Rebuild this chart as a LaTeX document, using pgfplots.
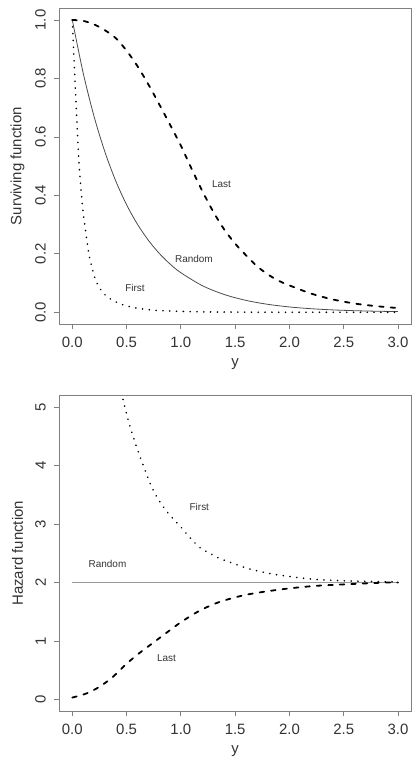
\documentclass[border=0pt]{standalone}
\usepackage{fontspec}
\setmainfont{Liberation Sans}
\usepackage{pgfplots}
\pgfplotsset{compat=1.18}
\definecolor{txt}{HTML}{333333}
\definecolor{frame}{HTML}{808080}
\pgfplotsset{
  rstyle/.style={
    scale only axis,
    width=351.7bp,
    xmin=-0.12, xmax=3.12,
    axis line style={draw=frame, line width=0.8bp},
    every tick/.style={draw=frame, line width=0.8bp},
    tick align=outside,
    major tick length=5bp,
    xtick pos=bottom, ytick pos=left,
    xtick={0,0.5,1,1.5,2,2.5,3},
    xticklabel style={/pgf/number format/fixed, /pgf/number format/fixed zerofill, /pgf/number format/precision=1, /pgf/number format/assume math mode=true, yshift=-5bp},
    ticklabel style={font=\fontsize{15}{18}\selectfont, text=txt},
    y tick label style={rotate=90, anchor=south, yshift=5bp},
    every axis y label/.style={at={(axis description cs:-0.119,0.5)}, rotate=90, anchor=center, font=\fontsize{15}{18}\selectfont, text=txt},
    every axis x label/.style={at={(axis description cs:0.5,-0.127)}, anchor=center, font=\fontsize{15}{18}\selectfont, text=txt},
    clip=true,
  },
}
\tikzset{
  lab/.style={font=\fontsize{10}{12}\selectfont, text=txt, anchor=center},
  dashedR/.style={black, line width=1.8bp, dash pattern=on 4.5bp off 7bp, line cap=round},
  dottedR/.style={black, line width=1.8bp, dash pattern=on 0.01bp off 6.8bp, line cap=round},
}
\begin{document}
\begin{tikzpicture}
\useasboundingbox (0,0) rectangle (415bp,759bp);
% ---------------- top: surviving functions
\begin{axis}[rstyle, at={(59.3bp,435bp)}, anchor=south west, height=315.7bp,
  ymin=-0.04, ymax=1.04, ytick={0,0.2,0.4,0.6,0.8,1.0},
  yticklabel style={/pgf/number format/fixed, /pgf/number format/fixed zerofill, /pgf/number format/precision=1, /pgf/number format/assume math mode=true},
  xlabel={y}, ylabel={Surviving function}]
\addplot[black!70, line width=0.8bp, smooth] coordinates {
(0,1) (0.1,0.8187) (0.2,0.6703) (0.3,0.5488) (0.4,0.4493) (0.5,0.3679)
(0.6,0.3012) (0.7,0.2466) (0.8,0.2019) (0.9,0.1653) (1.0,0.1353)
(1.2,0.0907) (1.4,0.0608) (1.6,0.0408) (1.8,0.0273) (2.0,0.0183)
(2.2,0.0123) (2.4,0.0082) (2.6,0.0055) (2.8,0.0037) (3.0,0.0025)};
\addplot[dottedR, smooth] coordinates {
(0,1) (0.02,0.83) (0.04,0.67) (0.06,0.52) (0.08,0.42) (0.10,0.34) (0.12,0.285)
(0.15,0.205) (0.18,0.155) (0.22,0.105) (0.28,0.068) (0.35,0.046) (0.42,0.032)
(0.5,0.022) (0.6,0.014) (0.7,0.009) (0.8,0.006) (1.0,0.003) (1.3,0.001)
(1.6,0.0005) (2.0,0.0002) (2.5,0.0001) (3.0,0)};
\addplot[dashedR, smooth] coordinates {
(0,1) (0.1,0.997) (0.2,0.985) (0.3,0.965) (0.4,0.938) (0.5,0.895) (0.6,0.842)
(0.7,0.780) (0.8,0.712) (0.9,0.642) (1.0,0.570) (1.1,0.49) (1.2,0.413)
(1.3,0.343) (1.4,0.283) (1.5,0.235) (1.6,0.195) (1.7,0.158) (1.8,0.130)
(1.9,0.108) (2.0,0.092) (2.2,0.064) (2.4,0.044) (2.6,0.030) (2.8,0.021) (3.0,0.0145)};
\node[lab] at (axis cs:1.374,0.44) {Last};
\node[lab] at (axis cs:1.12,0.182) {Random};
\node[lab] at (axis cs:0.577,0.082) {First};
\end{axis}
% ---------------- bottom: hazard functions
\begin{axis}[rstyle, at={(59.3bp,48bp)}, anchor=south west, height=315.3bp,
  ymin=-0.2, ymax=5.2, ytick={0,1,2,3,4,5},
  yticklabel style={/pgf/number format/assume math mode=true},
  xlabel={y}, ylabel={Hazard function}]
\addplot[black!40, line width=1.4bp] coordinates {(0,2) (3,2)};
\addplot[dottedR, smooth] coordinates {
(0.455,5.25) (0.47,5.11) (0.515,4.78) (0.552,4.55) (0.607,4.24) (0.669,3.93)
(0.73,3.64) (0.807,3.38) (0.9,3.15) (1.0,2.95) (1.083,2.77) (1.175,2.60)
(1.267,2.50) (1.36,2.41) (1.48,2.33) (1.6,2.25) (1.75,2.18) (1.9,2.13)
(2.2,2.06) (2.5,2.03) (3.0,2.01)};
\addplot[dashedR, smooth] coordinates {
(0,0.03) (0.13,0.10) (0.255,0.22) (0.377,0.39) (0.5,0.61) (0.623,0.80)
(0.746,0.97) (0.868,1.14) (1.0,1.32) (1.175,1.52) (1.36,1.67) (1.6,1.79)
(1.91,1.88) (2.22,1.94) (2.52,1.97) (2.89,2.0) (3.0,2.0)};
\node[lab] at (axis cs:0.324,2.32) {Random};
\node[lab] at (axis cs:0.868,0.70) {Last};
\node[lab] at (axis cs:1.17,3.30) {First};
\end{axis}
\end{tikzpicture}
\end{document}
